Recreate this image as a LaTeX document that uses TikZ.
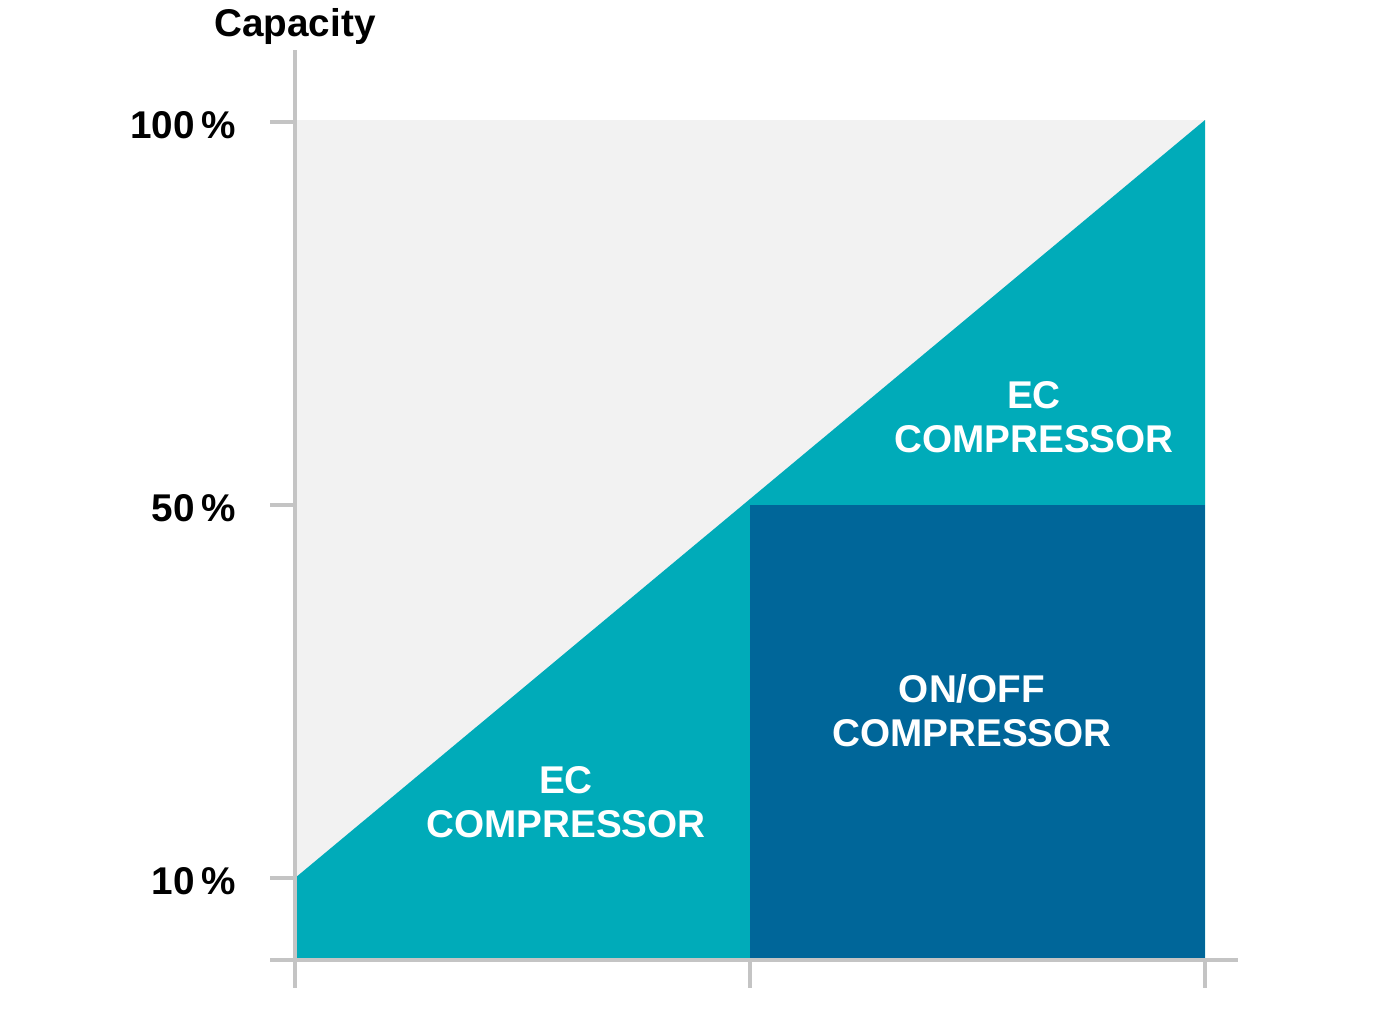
\documentclass[tikz,border=0pt]{standalone}
\usepackage{fontspec}
\setmainfont{Liberation Sans}
\definecolor{bgray}{HTML}{F2F2F2}
\definecolor{ecteal}{HTML}{00ABB9}
\definecolor{onblue}{HTML}{006699}
\definecolor{axgray}{HTML}{C4C4C4}
\begin{document}
\begin{tikzpicture}[x=0.01cm, y=-0.01cm]
    % Styles
    \tikzstyle{axis} = [draw=axgray, line width=1.2pt]
    \tikzstyle{zone} = [text=white, font=\bfseries\fontsize{11}{12.5}\selectfont, align=center]
    \tikzstyle{tick} = [anchor=east, font=\bfseries\fontsize{11}{12}\selectfont]

    \useasboundingbox (0,0) rectangle (1400,1024);

    % Areas
    \fill[bgray] (295,120) rectangle (1205,960);
    \fill[ecteal] (295,878) -- (1205,120) -- (1205,960) -- (295,960) -- cycle;
    \fill[onblue] (750,505) rectangle (1205,960);

    % Axes
    \draw[axis] (295,50) -- (295,988);
    \draw[axis] (270,960) -- (1238,960);
    \foreach \x in {750,1205} \draw[axis] (\x,960) -- (\x,988);
    \foreach \y in {122,505,878} \draw[axis] (270,\y) -- (295,\y);

    % Labels
    \node[font=\bfseries\fontsize{11}{12}\selectfont] (cap) at (295,26) {Capacity};
    \node[tick] (t100) at (248,125) {100\,\%};
    \node[tick] (t50) at (248,508) {50\,\%};
    \node[tick] (t10) at (248,881) {10\,\%};

    \node[zone] (ecup) at (1034,417) {EC\\COMPRESSOR};
    \node[zone] (onoff) at (972,711) {ON/OFF\\COMPRESSOR};
    \node[zone] (eclow) at (566,802) {EC\\COMPRESSOR};
\end{tikzpicture}
\end{document}
